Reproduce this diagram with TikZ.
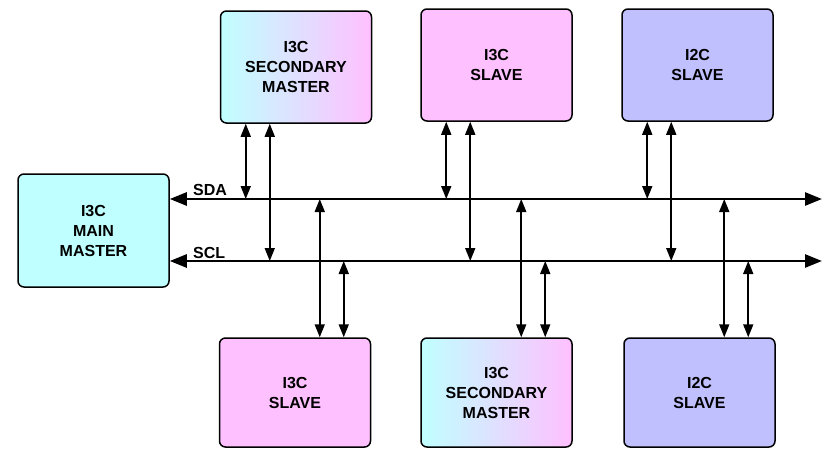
\documentclass[tikz,border=0pt]{standalone}
\usepackage{fontspec}
\setmainfont{Liberation Sans}
\usetikzlibrary{arrows.meta}
\definecolor{cyanfill}{RGB}{192,255,255}
\definecolor{pinkfill}{RGB}{255,192,255}
\definecolor{bluefill}{RGB}{192,192,255}
\begin{document}
\begin{tikzpicture}[x=1pt,y=-1pt,
		dev/.style={draw,line width=1.5pt,rounded corners=6pt,minimum width=151pt,align=center,
			font=\bfseries\fontsize{16}{20}\selectfont},
		bus/.style={line width=2.6pt,{Triangle[length=17pt,width=13pt]}-{Triangle[length=17pt,width=13pt]}},
		link/.style={line width=1.6pt,{Triangle[length=13pt,width=10pt]}-{Triangle[length=13pt,width=10pt]}},
		lbl/.style={inner sep=0pt,anchor=base west,font=\bfseries\fontsize{16}{20}\selectfont}]
		\useasboundingbox (0,0) rectangle (825,450);
		\node[dev,fill=cyanfill,minimum height=113pt] (mm) at (93.5,230.5) {I3C\\MAIN\\MASTER};
		\node[dev,left color=cyanfill,right color=pinkfill,minimum height=112pt] (t1) at (296,67) {I3C\\SECONDARY\\MASTER};
		\node[dev,fill=pinkfill,minimum height=112pt] (t2) at (496.5,65) {I3C\\SLAVE};
		\node[dev,fill=bluefill,minimum height=112pt] (t3) at (697.5,65) {I2C\\SLAVE};
		\node[dev,fill=pinkfill,minimum height=109pt] (b1) at (295,392.5) {I3C\\SLAVE};
		\node[dev,left color=cyanfill,right color=pinkfill,minimum height=109pt] (b2) at (496.5,392.5) {I3C\\SECONDARY\\MASTER};
		\node[dev,fill=bluefill,minimum height=109pt] (b3) at (699.5,392.5) {I2C\\SLAVE};
		% bus lines
		\coordinate (sda) at (822,199);
		\coordinate (scl) at (822,261);
		\draw[bus] (sda -| mm.east) -- (sda);
		\draw[bus] (scl -| mm.east) -- (scl);
		\node[lbl] (lsda) at (193,195) {SDA};
		\node[lbl] (lscl) at (193,258) {SCL};
		% devices above the bus
		\foreach \b in {t1,t2,t3}{
				\coordinate (\b a) at ([xshift=26pt]\b.south west);
				\coordinate (\b b) at ([xshift=50pt]\b.south west);
				\draw[link] (\b a) -- (\b a |- sda);
				\draw[link] (\b b) -- (\b b |- scl);
			}
		% devices below the bus
		\foreach \b in {b1,b2,b3}{
				\coordinate (\b a) at ([xshift=101pt]\b.north west);
				\coordinate (\b b) at ([xshift=125pt]\b.north west);
				\draw[link] (\b a |- sda) -- (\b a);
				\draw[link] (\b b |- scl) -- (\b b);
			}
	\end{tikzpicture}
\end{document}
